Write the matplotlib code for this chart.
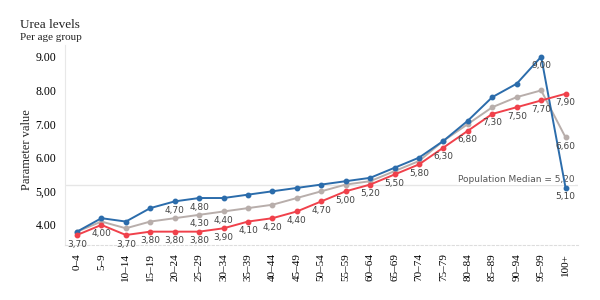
import matplotlib
matplotlib.use("Agg")
import matplotlib.pyplot as plt

age_groups = ["0–4", "5–9", "10–14", "15–19", "20–24", "25–29", "30–34", "35–39",
              "40–44", "45–49", "50–54", "55–59", "60–64", "65–69", "70–74", "75–79",
              "80–84", "85–89", "90–94", "95–99", "100+"]
blue_vals = [3.8, 4.2, 4.1, 4.5, 4.7, 4.8, 4.8, 4.9, 5.0, 5.1, 5.2, 5.3, 5.4, 5.7,
             6.0, 6.5, 7.1, 7.8, 8.2, 9.0, 5.1]
gray_vals = [3.8, 4.1, 3.9, 4.1, 4.2, 4.3, 4.4, 4.5, 4.6, 4.8, 5.0, 5.2, 5.3, 5.6,
             5.9, 6.5, 7.0, 7.5, 7.8, 8.0, 6.6]
red_vals = [3.7, 4.0, 3.7, 3.8, 3.8, 3.8, 3.9, 4.1, 4.2, 4.4, 4.7, 5.0, 5.2, 5.5,
            5.8, 6.3, 6.8, 7.3, 7.5, 7.7, 7.9]
blue_labeled = ["20–24", "25–29", "95–99", "100+"]
gray_labeled = ["25–29", "30–34", "100+"]
red_labeled = age_groups
median_value = 5.2
y_ticks = [4, 5, 6, 7, 8, 9]
y_tick_labels = ["4.00", "5,00", "6.00", "7.00", "8.00", "9.00"]

fig = plt.figure(figsize=(6, 3), dpi=100)
ax = fig.add_axes([0.108, 0.183, 0.855, 0.667])

x = list(range(len(age_groups)))
series = [(gray_vals, "#b8aeab", gray_labeled),
          (blue_vals, "#2b6cab", blue_labeled),
          (red_vals, "#f0414b", red_labeled)]
for vals, col, lab in series:
    ax.plot(x, vals, color=col, lw=1.4, marker="o", ms=3.2, zorder=3)
for vals, col, lab in series:
    for i, g in enumerate(age_groups):
        if g in lab:
            ax.annotate(f"{vals[i]:.2f}".replace(".", ","), (i, vals[i]),
                        xytext=(0, -6.5), textcoords="offset points",
                        ha="center", va="center", fontsize=6.5, color="#444444",
                        family="DejaVu Sans", zorder=4)

ax.axhline(median_value, color="#e6e6e6", lw=1, zorder=1)
ax.text(20.35, median_value + 0.02, f"Population Median = {median_value:.2f}".replace(".", ","),
        ha="right", va="bottom", fontsize=6.5, color="#555555", family="DejaVu Sans",
        bbox=dict(facecolor="white", edgecolor="none", pad=0.5), zorder=2)

ax.set_xlim(-0.5, 20.5)
ax.set_ylim(3.4, 9.35)
ax.set_xticks(x)
ax.set_xticklabels(age_groups, rotation=90, family="Liberation Serif", fontsize=8)
ax.set_yticks(y_ticks)
ax.set_yticklabels(y_tick_labels, family="Liberation Serif", fontsize=8.5)
ax.tick_params(length=0, pad=6)
ax.tick_params(axis="y", pad=6)
for s in ["top", "right"]:
    ax.spines[s].set_visible(False)
ax.spines["left"].set_color("#e8e8e8")
ax.spines["bottom"].set_color("#dddddd")
ax.spines["bottom"].set_linestyle((0, (2, 2)))

fig.text(0.045, 0.5, "Parameter value", family="Liberation Serif", fontsize=9,
         rotation=90, ha="center", va="center", color="#222222")
fig.text(0.033, 0.905, "Urea levels", family="Liberation Serif", fontsize=9.5, color="#222222")
fig.text(0.033, 0.865, "Per age group", family="Liberation Serif", fontsize=8, color="#222222")

fig.savefig("out.png", dpi=100)
